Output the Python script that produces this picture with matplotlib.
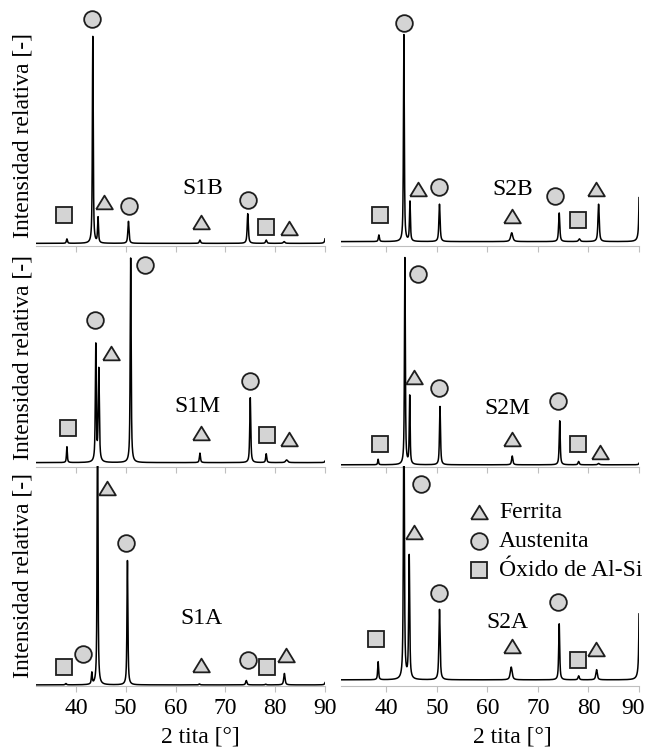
"""XRD patterns of S1/S2 samples (B, M, A) with phase markers."""

import matplotlib

matplotlib.use("Agg")
import matplotlib.pyplot as plt
import matplotlib.transforms as mtransforms
import numpy as np

plt.rcParams["font.family"] = ["Liberation Serif", "DejaVu Serif"]

# ---- data (2 theta in degrees, intensity as axis fraction)
# peaks: position, height above baseline, FWHM
S1B_BASE = 0.012
S1B_POS = [38.2, 43.4, 44.45, 50.55, 64.9, 74.5, 78.2, 81.8, 90.2]
S1B_HEIGHT = [0.02, 0.94, 0.115, 0.10, 0.015, 0.135, 0.015, 0.008, 0.06]
S1B_FWHM = [0.25, 0.2, 0.22, 0.28, 0.3, 0.28, 0.3, 0.4, 0.3]
S1B_PHASE = ["O", "F", "A", "A", "F", "A", "O", "F"]
S1B_MX = [37.6, 45.7, 50.7, 43.2, 65.1, 74.5, 78.2, 82.7]
S1B_MY = [0.14, 0.20, 0.18, 1.03, 0.11, 0.21, 0.085, 0.08]

S2B_BASE = 0.02
S2B_POS = [38.5, 43.45, 44.65, 50.5, 64.8, 74.2, 78.2, 82.0, 90.15]
S2B_HEIGHT = [0.03, 0.94, 0.18, 0.17, 0.04, 0.13, 0.012, 0.17, 0.5]
S2B_FWHM = [0.25, 0.2, 0.22, 0.28, 0.5, 0.28, 0.4, 0.3, 0.25]
S2B_PHASE = ["O", "A", "F", "A", "F", "A", "O", "F"]
S2B_MX = [38.7, 43.5, 46.2, 50.5, 64.8, 73.4, 77.85, 81.5]
S2B_MY = [0.14, 1.015, 0.26, 0.27, 0.136, 0.227, 0.118, 0.26]

S1M_BASE = 0.02
S1M_POS = [38.2, 44.0, 44.6, 51.0, 64.9, 75.0, 78.2, 82.3, 90.2]
S1M_HEIGHT = [0.072, 0.53, 0.42, 0.93, 0.043, 0.295, 0.04, 0.012, 0.02]
S1M_FWHM = [0.2, 0.22, 0.26, 0.22, 0.25, 0.24, 0.25, 0.5, 0.3]
S1M_PHASE = ["O", "A", "F", "A", "F", "A", "O", "F"]
S1M_MX = [38.4, 43.85, 47.0, 53.9, 65.1, 75.0, 78.3, 82.7]
S1M_MY = [0.176, 0.668, 0.52, 0.92, 0.156, 0.39, 0.145, 0.127]

S2M_BASE = 0.01
S2M_POS = [38.35, 43.65, 44.6, 50.6, 64.9, 74.3, 78.05, 82.0, 90.2]
S2M_HEIGHT = [0.025, 0.94, 0.31, 0.265, 0.04, 0.2, 0.015, 0.006, 0.02]
S2M_FWHM = [0.2, 0.2, 0.2, 0.24, 0.3, 0.24, 0.3, 0.4, 0.3]
S2M_PHASE = ["O", "A", "F", "A", "F", "A", "O", "F"]
S2M_MX = [38.7, 46.2, 45.5, 50.5, 64.8, 74.05, 77.85, 82.2]
S2M_MY = [0.105, 0.877, 0.41, 0.358, 0.126, 0.30, 0.105, 0.07]

S1A_BASE = 0.005
S1A_POS = [38.0, 43.2, 44.35, 50.35, 64.8, 74.2, 78.1, 81.85, 90.2]
S1A_HEIGHT = [0.006, 0.052, 1.3, 0.565, 0.004, 0.02, 0.003, 0.052, 0.03]
S1A_FWHM = [0.3, 0.22, 0.2, 0.22, 0.3, 0.3, 0.3, 0.32, 0.3]
S1A_PHASE = ["O", "A", "F", "A", "F", "A", "O", "F"]
S1A_MX = [37.6, 41.4, 46.3, 50.1, 65.1, 74.6, 78.3, 82.1]
S1A_MY = [0.088, 0.144, 0.90, 0.65, 0.095, 0.118, 0.088, 0.14]

S2A_BASE = 0.028
S2A_POS = [38.35, 43.45, 44.5, 50.5, 64.7, 74.2, 78.05, 81.6, 90.15]
S2A_HEIGHT = [0.082, 1.3, 0.56, 0.32, 0.058, 0.255, 0.018, 0.046, 0.75]
S2A_FWHM = [0.22, 0.22, 0.24, 0.28, 0.45, 0.24, 0.3, 0.35, 0.25]
S2A_PHASE = ["O", "A", "F", "A", "F", "A", "O", "F"]
S2A_MX = [38.0, 46.85, 45.5, 50.5, 64.8, 74.05, 77.85, 81.5]
S2A_MY = [0.215, 0.92, 0.70, 0.425, 0.18, 0.38, 0.12, 0.17]

SAMPLE_NAMES = ["S1B", "S2B", "S1M", "S2M", "S1A", "S2A"]
LABEL_X = [65.5, 64.9, 64.4, 63.9, 65.3, 63.9]
LABEL_Y = [0.26, 0.258, 0.274, 0.267, 0.305, 0.29]

PHASE_NAMES = {"F": "Ferrita", "A": "Austenita", "O": "Óxido de Al-Si"}

# ---- styling
FS = 17
FACE = "#d4d4d4"
EDGE = "#1e1e1e"
AXIS_GREY = "#bfbfbf"
TRIANGLE = [(-1, -0.82), (1, -0.82), (0, 0.82), (-1, -0.82)]
MARKERS = {"F": TRIANGLE, "A": "o", "O": "s"}

W, H = 646, 752
COL_LEFT = [36, 341]
COL_WIDTH = [289, 298]
COL_XLIM = [(32, 90), (31, 90)]
ROW_BOTTOM = [246, 467, 686]
ROW_HEIGHT = 220


def profile(x, base, pos, height, fwhm, eta=0.75):
    """Sum of pseudo-Voigt peaks on a flat baseline."""
    y = np.full_like(x, base)
    for p, h, w in zip(pos, height, fwhm):
        d = (x - p) / (w / 2)
        y += h * (eta / (1 + d**2) + (1 - eta) * np.exp(-np.log(2) * d**2))
    return y


panels = [
    (S1B_BASE, S1B_POS, S1B_HEIGHT, S1B_FWHM, S1B_PHASE, S1B_MX, S1B_MY),
    (S2B_BASE, S2B_POS, S2B_HEIGHT, S2B_FWHM, S2B_PHASE, S2B_MX, S2B_MY),
    (S1M_BASE, S1M_POS, S1M_HEIGHT, S1M_FWHM, S1M_PHASE, S1M_MX, S1M_MY),
    (S2M_BASE, S2M_POS, S2M_HEIGHT, S2M_FWHM, S2M_PHASE, S2M_MX, S2M_MY),
    (S1A_BASE, S1A_POS, S1A_HEIGHT, S1A_FWHM, S1A_PHASE, S1A_MX, S1A_MY),
    (S2A_BASE, S2A_POS, S2A_HEIGHT, S2A_FWHM, S2A_PHASE, S2A_MX, S2A_MY),
]

fig = plt.figure(figsize=(W / 100, H / 100), dpi=100)

for i, (base, pos, hgt, fwhm, phase, mx, my) in enumerate(panels):
    row, col = divmod(i, 2)
    ax = fig.add_axes([
        COL_LEFT[col] / W,
        (H - ROW_BOTTOM[row]) / H,
        COL_WIDTH[col] / W,
        ROW_HEIGHT / H,
    ])
    x0, x1 = COL_XLIM[col]
    x = np.linspace(x0, x1, 6000)
    ax.plot(x, profile(x, base, pos, hgt, fwhm), color="black", lw=1.1, zorder=2)

    for ph, px, py in zip(phase, mx, my):
        ax.plot(px, py, marker=MARKERS[ph], ms=12, mfc=FACE, mec=EDGE, mew=1.3,
                ls="none", clip_on=False, zorder=4)

    ax.text(LABEL_X[i], LABEL_Y[i], SAMPLE_NAMES[i], ha="center", va="center",
            fontsize=FS)

    ax.set_xlim(x0, x1)
    ax.set_ylim(0, 1)
    ax.set_yticks([])
    ax.set_xticks(range(40, 91, 10))
    for side in ("top", "right", "left"):
        ax.spines[side].set_visible(False)
    ax.spines["bottom"].set_color(AXIS_GREY)
    ax.spines["bottom"].set_linewidth(0.8)
    ax.tick_params(axis="x", direction="out", length=4, width=0.8,
                   color=AXIS_GREY, labelsize=FS, pad=5,
                   labelbottom=(row == 2))
    ax.patch.set_visible(False)

    if col == 0:
        ax.set_ylabel("Intensidad relativa [-]", fontsize=FS)
        ax.yaxis.set_label_coords(-0.008, 0.5)
    if row == 2:
        ax.set_xlabel("2 tita [°]", fontsize=FS)
        ax.xaxis.set_label_coords((65 - x0) / (x1 - x0), -0.185)

    if i == 5:
        # keep the last tick label inside the figure edge
        last = ax.get_xticklabels()[-1]
        shift = mtransforms.ScaledTranslation(-6 / 100, 0, fig.dpi_scale_trans)
        last.set_transform(last.get_transform() + shift)
        # legend drawn as markers with text
        for k, ph in enumerate(["F", "A", "O"]):
            ly = 0.79 - k * 0.132
            ax.plot(0.462, ly, marker=MARKERS[ph], ms=12, mfc=FACE, mec=EDGE,
                    mew=1.3, ls="none", transform=ax.transAxes, clip_on=False,
                    zorder=4)
            ax.text(0.53, ly, PHASE_NAMES[ph], transform=ax.transAxes,
                    ha="left", va="center", fontsize=FS)

fig.savefig("out.png", dpi=100)
